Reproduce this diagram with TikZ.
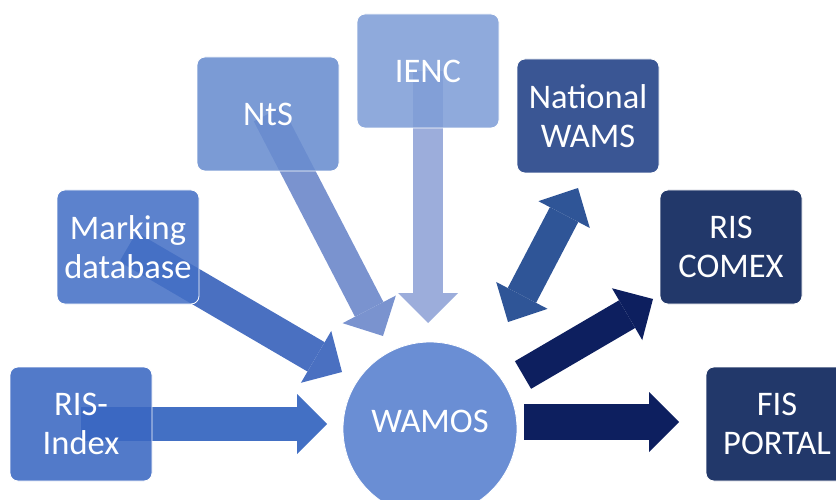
\documentclass[tikz,border=0pt]{standalone}
\usepackage{fontspec}
\setmainfont{Carlito}
\usetikzlibrary{arrows.meta,backgrounds}

\definecolor{ntsblue}{HTML}{698DCF}
\definecolor{iencblue}{HTML}{7F9ED7}
\definecolor{wamsblue}{HTML}{3A5694}
\definecolor{markblue}{HTML}{4571C6}
\definecolor{indexblue}{HTML}{3A68C2}
\definecolor{navy}{HTML}{22386A}
\definecolor{hubblue}{HTML}{6A8ED4}
\definecolor{arrindex}{HTML}{4370C4}
\definecolor{arrmark}{HTML}{4A70C1}
\definecolor{arrnts}{HTML}{7A93CF}
\definecolor{arrienc}{HTML}{9CADDB}
\definecolor{arrwams}{HTML}{2F5597}
\definecolor{arrout}{HTML}{0D1F5F}

\begin{document}
\begin{tikzpicture}[x=1pt,y=-1pt,
    box/.style={draw=white,line width=0.8pt,rounded corners=8pt,minimum width=142pt,
      minimum height=114pt,inner sep=0pt,align=center,text=white,
      fill opacity=0.88,text opacity=1,font=\fontsize{34.5}{39}\selectfont},
    solidbox/.style={box,fill opacity=1},
    hub/.style={circle,draw=white,line width=0.8pt,fill=hubblue,minimum size=174pt,
      inner sep=0pt,text=white,text depth=16pt,font=\fontsize{34.5}{39}\selectfont},
    flow/.style={line width=34pt,-{Triangle[width=60pt,length=30pt,line width=0pt]}},
    both/.style={line width=32pt,{Triangle[width=58pt,length=30pt,line width=0pt]}-{Triangle[width=58pt,length=30pt,line width=0pt]}}]
  \useasboundingbox (0,0) rectangle (836,500);
  \clip (0,0) rectangle (836,500);

  % boxes
  \node[box,fill=ntsblue] (nts) at (268,114) {NtS};
  \node[box,fill=iencblue] (ienc) at (428,71) {IENC};
  \node[solidbox,fill=wamsblue] (natwams) at (588,116) {National\\WAMS};
  \node[box,fill=markblue] (marking) at (128,247) {Marking\\database};
  \node[solidbox,fill=navy] (comex) at (731,247) {RIS\\COMEX};
  \node[box,fill=indexblue] (risindex) at (81,424) {RIS-\\Index};
  \node[solidbox,fill=navy] (fisportal) at (777,424) {FIS\\PORTAL};
  \node[hub] (wamos) at (430,429) {WAMOS};

  % arrow ends
  \coordinate (inindex) at (327,424);
  \coordinate (inmark) at (342,372);
  \coordinate (innts) at (383,336);
  \coordinate (inienc) at (428,323);
  \coordinate (wamslow) at (508,322);
  \coordinate (wamshigh) at (578,188);
  \coordinate (comexfrom) at (523,375);
  \coordinate (comexto) at (653,299);
  \coordinate (fisfrom) at (524,422);
  \coordinate (fisto) at (679,422);

  \begin{scope}[on background layer]
    \draw[flow,arrindex] (risindex.center) -- (inindex);
    \draw[flow,arrmark] (marking.center) -- (inmark);
    \draw[flow,arrnts,line width=32pt] (nts.center) -- (innts);
    \draw[flow,arrienc,line width=30pt] (ienc.center) -- (inienc);
  \end{scope}
  \draw[both,arrwams] (wamslow) -- (wamshigh);
  \draw[flow,arrout,line width=32pt] (comexfrom) -- (comexto);
  \draw[flow,arrout,line width=36pt] (fisfrom) -- (fisto);
\end{tikzpicture}
\end{document}
